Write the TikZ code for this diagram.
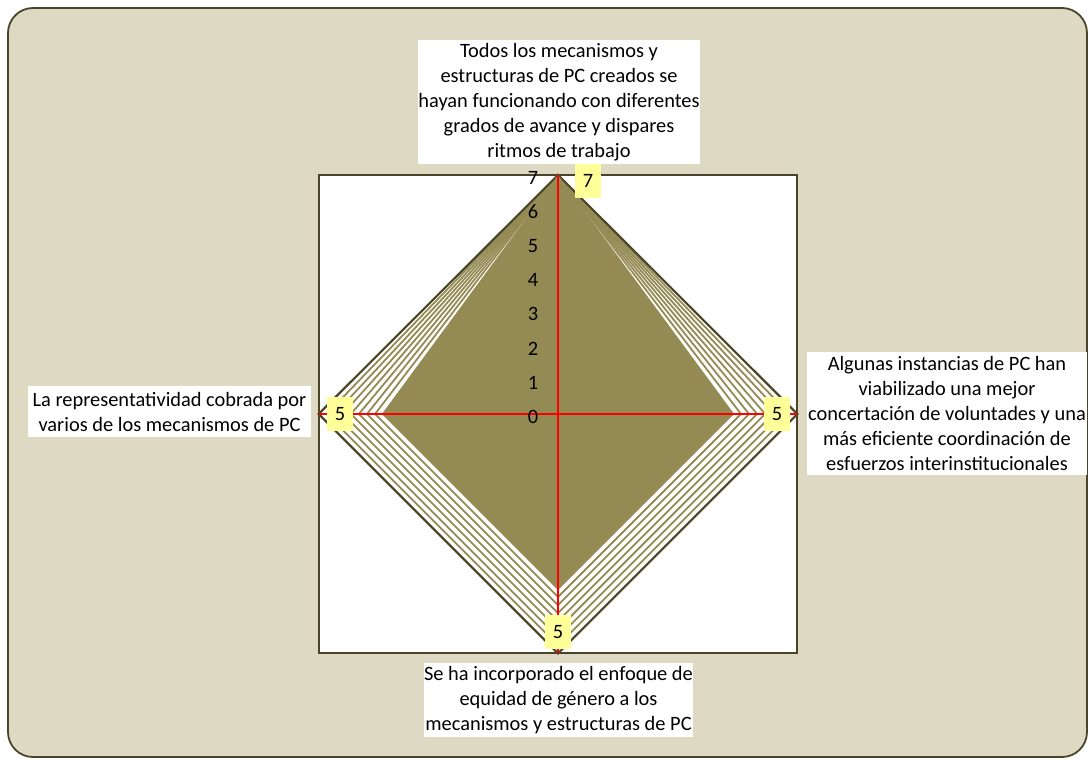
\documentclass[tikz,border=0pt]{standalone}
\usepackage{fontspec}
\setmainfont{Carlito}
\definecolor{panelbg}{HTML}{DDD9C3}
\definecolor{areafill}{HTML}{948A54}
\definecolor{gridolive}{HTML}{948A54}
\definecolor{framedark}{HTML}{4A452A}
\definecolor{labelyellow}{HTML}{FFFF99}
\tikzset{
  catlabel/.style={fill=white, inner sep=0pt, align=center,
    font=\fontsize{20.4}{25}\selectfont},
  vallabel/.style={fill=labelyellow, inner sep=0pt, minimum width=26pt,
    minimum height=34pt, font=\fontsize{20.4}{22}\selectfont},
  ticklabel/.style={inner sep=0pt, font=\fontsize{20.4}{22}\selectfont},
  axisline/.style={draw=red, line width=2pt},
  ring/.style={draw=gridolive, line width=1.8pt, line join=miter},
}
\begin{document}
\begin{tikzpicture}[x=1pt, y=-1pt]
  \useasboundingbox (0,0) rectangle (1091,762);
  % panel
  \draw[fill=panelbg, draw=framedark, line width=1.8pt, rounded corners=25pt]
    (8,8) rectangle (1087,757);
  % plot area
  \draw[fill=white, draw=framedark, line width=2pt] (319,175) rectangle (797,653);
  \def\cx{558}\def\cy{414}\def\u{34.2}
  % rings: top vertex fixed at 7, the other three vertices spread outwards
  \foreach \i in {0,...,7}{
    \pgfmathsetmacro{\r}{(5.35+0.2357*\i)*\u}
    \draw[ring] (\cx,175) -- ({\cx+\r},\cy) -- (\cx,{\cy+\r}) -- ({\cx-\r},\cy) -- cycle;
  }
  \pgfmathsetmacro{\r}{7*\u}
  \draw[draw=framedark, line width=2pt, line join=miter]
    (\cx,175) -- ({\cx+\r},\cy) -- (\cx,{\cy+\r}) -- ({\cx-\r},\cy) -- cycle;
  % data area
  \pgfmathsetmacro{\a}{5.15*\u}
  \fill[areafill] (\cx,175) -- ({\cx+\a},\cy) -- (\cx,{\cy+\a}) -- ({\cx-\a},\cy) -- cycle;
  % axes
  \coordinate (top) at (\cx,175);
  \coordinate (bottom) at (\cx,653);
  \coordinate (left) at (319,\cy);
  \coordinate (right) at (797,\cy);
  \draw[axisline] (top) -- (bottom);
  \draw[axisline] (left) -- (right);
  % scale
  \foreach \k in {0,...,7}{
    \node[ticklabel] (t\k) at (533,{417-\u*\k}) {\k};
  }
  % values
  \node[vallabel] (vtop) at (588,181) {7};
  \node[vallabel] (vright) at (777,414) {5};
  \node[vallabel] (vleft) at (340,414) {5};
  \node[vallabel] (vbottom) at (558,632) {5};
  % categories
  \node[catlabel, minimum width=282pt, minimum height=124pt] (ctop) at (559,102)
    {Todos los mecanismos y\\estructuras de PC creados se\\hayan funcionando con diferentes\\grados de avance y dispares\\ritmos de trabajo};
  \node[catlabel, minimum width=280pt, minimum height=123pt] (cright) at (947,413)
    {Algunas instancias de PC han\\viabilizado una mejor\\concertación de voluntades y una\\más eficiente coordinación de\\esfuerzos interinstitucionales};
  \node[catlabel, minimum width=283pt, minimum height=51pt] (cleft) at (169.5,411.5)
    {La representatividad cobrada por\\varios de los mecanismos de PC};
  \node[catlabel, minimum width=269pt, minimum height=74pt] (cbottom) at (558.5,700)
    {Se ha incorporado el enfoque de\\equidad de género a los\\mecanismos y estructuras de PC};
\end{tikzpicture}
\end{document}
